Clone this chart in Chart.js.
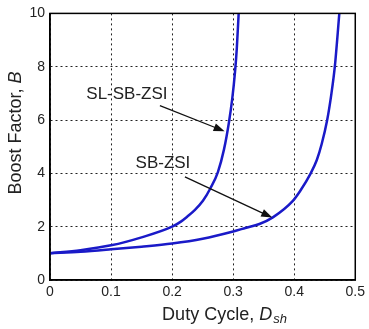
<!DOCTYPE html>
<html>
<head>
<meta charset="utf-8">
<script src="https://cdn.jsdelivr.net/npm/chart.js@4/dist/chart.umd.min.js"></script>
<style>
html,body{margin:0;padding:0;background:#fff;}
canvas{display:block;}
</style>
</head>
<body>
<canvas id="c" width="369" height="329"></canvas>
<script>
// Data
const slDuty  = [0, 0.05, 0.1, 0.15, 0.2, 0.215, 0.225, 0.237, 0.2505, 0.263, 0.275, 0.285, 0.293, 0.2985, 0.303, 0.306, 0.309];
const slBoost = [1.0, 1.12, 1.3, 1.6, 2.0, 2.2, 2.38, 2.62, 2.97, 3.45, 4.05, 4.9, 5.9, 6.8, 7.8, 8.7, 10.0];
const sbDuty  = [0, 0.05, 0.1, 0.15, 0.2, 0.25, 0.3, 0.32, 0.343, 0.365, 0.397, 0.41, 0.427, 0.437, 0.445, 0.454, 0.461, 0.4665, 0.4739];
const sbBoost = [1.0, 1.06, 1.15, 1.25, 1.37, 1.55, 1.82, 1.95, 2.1, 2.35, 2.95, 3.35, 4.0, 4.5, 5.1, 6.0, 7.0, 8.0, 10.0];
const xTicks = [0, 0.1, 0.2, 0.3, 0.4, 0.5];
const yTicks = [0, 2, 4, 6, 8, 10];
const seriesNames = ['SL-SB-ZSI', 'SB-ZSI'];
// annotation: label position (D,B), arrow start (D,B), arrow end (D,B)
const labelPos   = [[0.126, 6.95], [0.185, 4.39]];
const arrowStart = [[0.180, 6.54], [0.221, 3.87]];
const arrowEnd   = [[0.286, 5.58], [0.364, 2.34]];
const xTitle = ['Duty Cycle, ', 'D', 'sh'];
const yTitle = ['Boost Factor, ', 'B'];

const FONT = '"Liberation Sans", Arial, sans-serif';
const BLUE = '#1a1ac8';

function pts(xs, ys){ return xs.map((x,i)=>({x:x, y:ys[i]})); }

const decor = {
  id: 'decor',
  afterDatasetsDraw(chart){
    const ctx = chart.ctx, xs = chart.scales.x, ys = chart.scales.y, a = chart.chartArea;
    ctx.save();
    // box
    ctx.strokeStyle = '#000'; ctx.lineWidth = 1.5; ctx.setLineDash([]);
    ctx.strokeRect(a.left, a.top, a.right - a.left, a.bottom - a.top);
    // annotations
    ctx.fillStyle = '#222'; ctx.font = '17px ' + FONT;
    ctx.textAlign = 'center'; ctx.textBaseline = 'middle';
    for (let i = 0; i < seriesNames.length; i++){
      ctx.fillText(seriesNames[i], xs.getPixelForValue(labelPos[i][0]), ys.getPixelForValue(labelPos[i][1]));
      const x0 = xs.getPixelForValue(arrowStart[i][0]), y0 = ys.getPixelForValue(arrowStart[i][1]);
      const x1 = xs.getPixelForValue(arrowEnd[i][0]), y1 = ys.getPixelForValue(arrowEnd[i][1]);
      const ang = Math.atan2(y1 - y0, x1 - x0), L = 11, W = 4;
      ctx.strokeStyle = '#111'; ctx.lineWidth = 1.3;
      ctx.beginPath(); ctx.moveTo(x0, y0);
      ctx.lineTo(x1 - L*Math.cos(ang)*0.8, y1 - L*Math.sin(ang)*0.8); ctx.stroke();
      ctx.fillStyle = '#111';
      ctx.beginPath();
      ctx.moveTo(x1, y1);
      ctx.lineTo(x1 - L*Math.cos(ang) + W*Math.sin(ang), y1 - L*Math.sin(ang) - W*Math.cos(ang));
      ctx.lineTo(x1 - L*Math.cos(ang) - W*Math.sin(ang), y1 - L*Math.sin(ang) + W*Math.cos(ang));
      ctx.closePath(); ctx.fill();
      ctx.fillStyle = '#222';
    }
    // x title
    const cx = 224, ty = 315;
    const fN = '18px ' + FONT, fI = 'italic 18px ' + FONT, fS = 'italic 13px ' + FONT;
    ctx.textAlign = 'left'; ctx.textBaseline = 'middle'; ctx.fillStyle = '#222';
    ctx.font = fN; const w0 = ctx.measureText(xTitle[0]).width;
    ctx.font = fI; const w1 = ctx.measureText(xTitle[1]).width;
    ctx.font = fS; const w2 = ctx.measureText(xTitle[2]).width;
    let sx = cx - (w0 + w1 + w2) / 2;
    ctx.font = fN; ctx.fillText(xTitle[0], sx, ty); sx += w0;
    ctx.font = fI; ctx.fillText(xTitle[1], sx, ty); sx += w1;
    ctx.font = fS; ctx.fillText(xTitle[2], sx + 1, ty + 4);
    // y title
    ctx.save();
    ctx.translate(16, 133);
    ctx.rotate(-Math.PI / 2);
    ctx.font = fN; const v0 = ctx.measureText(yTitle[0]).width;
    ctx.font = fI; const v1 = ctx.measureText(yTitle[1]).width;
    let sy = -(v0 + v1) / 2;
    ctx.font = fN; ctx.fillText(yTitle[0], sy, 0); sy += v0;
    ctx.font = fI; ctx.fillText(yTitle[1], sy, 0);
    ctx.restore();
    ctx.restore();
  }
};

new Chart(document.getElementById('c'), {
  type: 'line',
  data: {
    datasets: [
      { label: seriesNames[0], data: pts(slDuty, slBoost), borderColor: BLUE, borderWidth: 2.5,
        pointRadius: 0, fill: false, cubicInterpolationMode: 'monotone' },
      { label: seriesNames[1], data: pts(sbDuty, sbBoost), borderColor: BLUE, borderWidth: 2.5,
        pointRadius: 0, fill: false, cubicInterpolationMode: 'monotone' }
    ]
  },
  options: {
    responsive: false, animation: false, devicePixelRatio: 1,
    layout: { padding: { top: 10, right: 13, left: 0, bottom: 0 } },
    plugins: { legend: { display: false }, tooltip: { enabled: false } },
    scales: {
      x: {
        type: 'linear', min: 0, max: 0.5,
        afterBuildTicks: s => { s.ticks = xTicks.map(v => ({ value: v })); },
        afterFit: s => { s.height = 49; },
        ticks: { font: { family: FONT, size: 14 }, color: '#222', padding: 4,
                 callback: v => String(+v.toFixed(1)), maxRotation: 0 },
        grid: { color: '#222', lineWidth: 1, drawTicks: false, tickLength: 0 },
        border: { display: true, color: '#000', width: 1.5, dash: [2, 3] }
      },
      y: {
        type: 'linear', min: 0, max: 10,
        afterBuildTicks: s => { s.ticks = yTicks.map(v => ({ value: v })); },
        afterFit: s => { s.width = 50; },
        ticks: { font: { family: FONT, size: 14 }, color: '#222', padding: 5,
                 callback: v => String(v) },
        grid: { color: '#222', lineWidth: 1, drawTicks: false, tickLength: 0 },
        border: { display: true, color: '#000', width: 1.5, dash: [2, 3] }
      }
    }
  },
  plugins: [decor]
});
</script>
</body>
</html>
